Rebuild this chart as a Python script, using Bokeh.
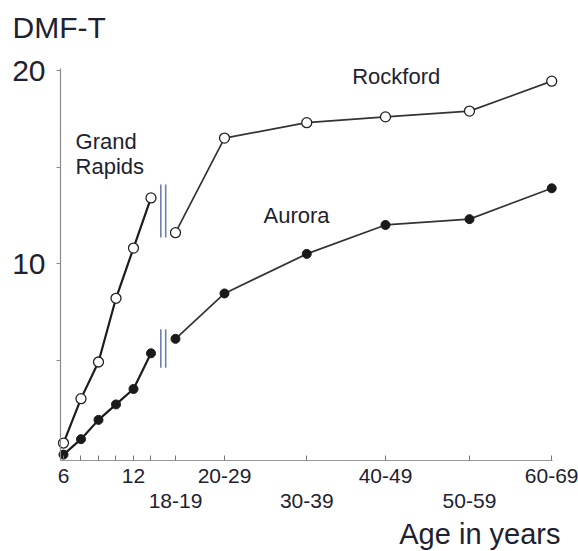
from bokeh.plotting import figure
from bokeh.models import FixedTicker, LinearAxis, Label, Range1d
from bokeh.embed import file_html
from bokeh.resources import INLINE

# ---------------- data ----------------
child_slots = [0, 1, 2, 3, 4, 5]
child_tick_labels = ["6", "", "", "", "12", ""]
grand_rapids = [0.7, 3.0, 4.9, 8.2, 10.8, 13.4]
children_filled = [0.1, 0.9, 1.9, 2.7, 3.5, 5.35]

adult_groups = ["18-19", "20-29", "30-39", "40-49", "50-59", "60-69"]
adult_slots = [6.4, 9.2, 13.9, 18.4, 23.2, 27.9]
rockford = [11.6, 16.5, 17.3, 17.6, 17.9, 19.45]
aurora = [6.1, 8.45, 10.5, 12.0, 12.3, 13.9]

y_ticks = [5, 10, 15, 20]
y_tick_labels = ["", "10", "", "20"]

TEXT = "#1e2230"
FONT = "Liberation Sans"

# axes extents (in data units)
X_MIN, X_MAX = -0.17, 27.95
Y_MIN, Y_MAX = -0.2, 20.1

p = figure(width=578, height=551, output_backend="svg", toolbar_location=None,
           x_range=Range1d(-3.6, 29.43), y_range=Range1d(-4.92, 23.63),
           x_axis_type=None, y_axis_type=None,
           min_border=0, min_border_left=0, min_border_right=0,
           min_border_top=0, min_border_bottom=0)
p.title.visible = False
p.outline_line_color = None
p.background_fill_color = "white"
p.border_fill_color = "white"

# y axis
yax = LinearAxis(ticker=FixedTicker(ticks=y_ticks),
                 major_label_overrides=dict(zip(y_ticks, y_tick_labels)),
                 fixed_location=X_MIN, bounds=(Y_MIN, Y_MAX))
yax.axis_line_color = "#8a8a8a"
yax.axis_line_width = 1.2
yax.major_tick_line_color = "#8a8a8a"
yax.major_tick_in = 0
yax.major_tick_out = 4
yax.minor_tick_line_color = None
yax.major_label_standoff = 11
yax.major_label_text_font = FONT
yax.major_label_text_font_size = "30px"
yax.major_label_text_color = TEXT
p.add_layout(yax, "left")

# x axis, first row of labels
row1_over = dict(zip(child_slots, child_tick_labels))
for i, (s, g) in enumerate(zip(adult_slots, adult_groups)):
    row1_over[s] = g if i % 2 == 1 else ""
ax1 = LinearAxis(ticker=FixedTicker(ticks=child_slots + adult_slots),
                 major_label_overrides=row1_over,
                 fixed_location=Y_MIN, bounds=(X_MIN, X_MAX))
ax1.axis_line_color = "#9a9a9a"
ax1.axis_line_width = 1.2
ax1.major_tick_line_color = "#777777"
ax1.major_tick_in = 5
ax1.major_tick_out = 0
ax1.minor_tick_line_color = None
ax1.major_label_standoff = 9
ax1.major_label_text_font = FONT
ax1.major_label_text_font_size = "21px"
ax1.major_label_text_color = TEXT
p.add_layout(ax1, "below")

# x axis, second row of labels
row2_slots = adult_slots[0::2]
row2_labels = adult_groups[0::2]
ax2 = LinearAxis(ticker=FixedTicker(ticks=row2_slots),
                 major_label_overrides=dict(zip(row2_slots, row2_labels)),
                 fixed_location=Y_MIN)
ax2.axis_line_color = None
ax2.major_tick_line_color = None
ax2.minor_tick_line_color = None
ax2.major_tick_in = 0
ax2.major_tick_out = 0
ax2.major_label_standoff = 34
ax2.major_label_text_font = FONT
ax2.major_label_text_font_size = "21px"
ax2.major_label_text_color = TEXT
p.add_layout(ax2, "below")

# axis break marks
break_x = (child_slots[-1] + adult_slots[0]) / 2
break_dx = 0.14
brk_upper = (11.35, 14.1)
brk_lower = (4.6, 6.6)
for (y0, y1) in (brk_upper, brk_lower):
    p.segment(x0=[break_x - break_dx, break_x + break_dx], y0=[y0, y0],
              x1=[break_x - break_dx, break_x + break_dx], y1=[y1, y1],
              line_color="#6f7fae", line_width=1.6)

# series
LINE = "#1c1c1c"
p.line(child_slots, grand_rapids, line_color=LINE, line_width=2.2)
p.line(child_slots, children_filled, line_color=LINE, line_width=2.2)
p.line(adult_slots, rockford, line_color="#333333", line_width=1.7)
p.line(adult_slots, aurora, line_color="#333333", line_width=1.7)

p.scatter(child_slots, children_filled, marker="circle", size=9,
          fill_color="#1a1a1a", line_color="#1a1a1a")
p.scatter(adult_slots, aurora, marker="circle", size=9,
          fill_color="#1a1a1a", line_color="#1a1a1a")
p.scatter(child_slots, grand_rapids, marker="circle", size=10,
          fill_color="white", line_color="#222222", line_width=1.3)
p.scatter(adult_slots, rockford, marker="circle", size=10,
          fill_color="white", line_color="#222222", line_width=1.3)

# text labels
def add_label(x, y, text, size, align="left", baseline="middle"):
    p.add_layout(Label(x=x, y=y, text=text, text_font=FONT, text_font_size=size,
                       text_color=TEXT, text_align=align, text_baseline=baseline))

add_label(-2.91, 22.23, "DMF-T", "30px")
add_label(0.69, 16.3, "Grand", "22px")
add_label(0.69, 15.05, "Rapids", "22px")
add_label(16.5, 19.7, "Rockford", "22px")
add_label(11.43, 12.5, "Aurora", "22px")
add_label(28.4, -4.85, "Age in years", "29px", align="right", baseline="bottom")

open("out.html", "w").write(file_html(p, INLINE))
